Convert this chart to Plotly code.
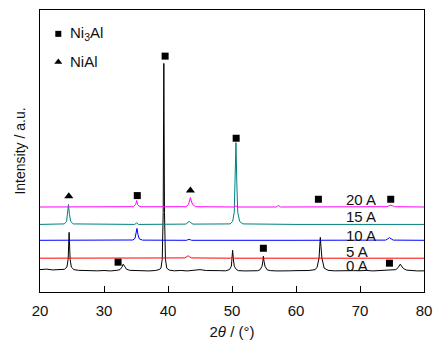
import plotly.graph_objects as go

# ---- data (intensity in arbitrary offset units) ----
x0 = [20, 21, 22, 23, 23.8, 24.2, 24.4, 24.55, 24.7, 24.9, 25.3, 26, 27, 28, 29, 30, 31, 32, 32.5,
      32.8, 33.0, 33.2, 33.5, 34, 35, 36, 37, 38, 38.6, 38.9, 39.1, 39.25, 39.35, 39.45, 39.6, 39.8,
      40.2, 41, 42, 43, 44, 45, 46, 47, 48, 49, 49.6, 49.9, 50.02, 50.1, 50.2, 50.35, 50.7, 51, 52,
      53, 54, 54.4, 54.7, 54.82, 54.9, 55.0, 55.15, 55.5, 56, 57, 58, 59, 60, 61, 62, 63, 63.3,
      63.6, 63.72, 63.8, 63.9, 64.05, 64.4, 65, 66, 67, 68, 69, 70, 71, 72, 73, 74, 75, 75.6,
      75.95, 76.15, 76.3, 76.5, 76.8, 77.3, 78, 79, 80]
y0 = [22.5, 23.0, 22.2, 22.6, 22.8, 25, 33, 60, 33, 25, 22.5, 21.8, 21.5, 21.9, 21.3, 21.6, 21.2, 21.8, 22.5,
      25, 28, 26, 23, 21.8, 21.4, 21.7, 21.2, 21.6, 22.5, 24, 33, 80, 230, 80, 33, 24,
      22, 21.3, 21.7, 21.2, 21.5, 22.5, 21.6, 21.2, 21.5, 21.3, 22.5, 26, 34, 42, 34, 26, 22.5, 21.5, 21.2,
      21.6, 21.4, 22.5, 26, 31, 36, 31, 26, 22.3, 21.5, 21.2, 21.6, 21.3, 21.5, 21.2, 21.6, 22.5, 25,
      34, 46, 55, 46, 34, 24, 21.8, 21.3, 21.6, 21.2, 21.5, 21.4, 21.7, 21.2, 21.5, 21.3, 21.8, 22.5,
      24.5, 27, 28, 26, 23.5, 22, 21.5, 21.2, 21.3]

x5 = [20, 30, 38, 42.6, 42.95, 43.15, 43.35, 43.7, 49.8, 50.1, 50.4, 60, 70, 80]
y5 = [34, 34, 34, 34.3, 35.5, 36.5, 35.5, 34.3, 34, 35.5, 34, 34, 34, 34]

x10 = [20, 30, 34.5, 34.85, 35.0, 35.15, 35.3, 35.5, 36, 42.9, 43.3, 43.7, 60, 74.0, 74.35,
       74.6, 74.85, 75.2, 80]
y10 = [52, 52, 52.3, 54, 58, 64, 58, 53.5, 52.2, 52, 53, 52, 52, 52.2, 53.5, 54.7, 53.5, 52.2, 52]

x15 = [20, 23.8, 24.15, 24.3, 24.45, 24.6, 24.8, 25.2, 30, 34.8, 35.1, 35.4, 42.8, 43.1, 43.3,
       43.5, 43.9, 49.7, 50.1, 50.35, 50.5, 50.62, 50.75, 50.9, 51.2, 51.7, 60, 70, 80]
y15 = [68, 68.5, 71, 78, 88, 78, 71, 68.5, 68, 68, 69.5, 68, 68.3, 70, 71, 70, 68.3, 68.5, 71, 80,
       110, 150.3, 110, 80, 71, 68.5, 68, 68, 68]

x20 = [20, 30, 34.6, 34.95, 35.1, 35.25, 35.45, 35.8, 42.8, 43.2, 43.38, 43.5, 43.65, 43.85,
       44.3, 50.3, 50.6, 50.9, 56.9, 57.25, 57.6, 70, 74.2, 74.55, 74.8, 75.05, 75.4, 80]
y20 = [85.5, 85.5, 85.8, 88, 92, 88, 86.5, 85.7, 85.8, 88, 91.5, 95, 91.5, 88, 85.8, 85.5, 86.5,
       85.5, 85.5, 87, 85.5, 85.5, 85.8, 86.8, 87.3, 86.8, 85.8, 85.5]

series_names = ["0 A", "5 A", "10 A", "15 A", "20 A"]
series_colors = ["#000000", "#ff0000", "#0000ff", "#008080", "#ff00ff"]
label_y = [26.5, 40.8, 57.3, 75.7, 93.3]

# phase marker positions (2theta, height)
ni3al_x = [39.55, 50.65, 35.2, 63.5, 74.8, 54.9, 74.6, 32.2]
ni3al_y = [237.3, 154.7, 97, 93.3, 93.3, 44, 29, 30]
nial_x = [24.5, 43.5]
nial_y = [96.3, 102]

fig = go.Figure()
xs = [x0, x5, x10, x15, x20]
ys = [y0, y5, y10, y15, y20]
for xv, yv, nm, c in zip(xs, ys, series_names, series_colors):
    fig.add_trace(go.Scatter(x=xv, y=yv, mode="lines", name=nm,
                             line=dict(color=c, width=1), showlegend=False))

fig.add_trace(go.Scatter(x=ni3al_x, y=ni3al_y, mode="markers", showlegend=False,
                         marker=dict(symbol="square", size=7, color="black")))
fig.add_trace(go.Scatter(x=nial_x, y=nial_y, mode="markers", showlegend=False,
                         marker=dict(symbol="triangle-up", size=8, color="black")))
# legend key markers
fig.add_trace(go.Scatter(x=[22.86], y=[259.7], mode="markers", showlegend=False,
                         marker=dict(symbol="square", size=6, color="black")))
fig.add_trace(go.Scatter(x=[22.86], y=[231.3], mode="markers", showlegend=False,
                         marker=dict(symbol="triangle-up", size=7, color="black")))

font = "Arial, Liberation Sans, sans-serif"
annotations = []
for nm, ly in zip(series_names, label_y):
    annotations.append(dict(x=67.66, y=ly, text=nm, showarrow=False, xanchor="left",
                            yanchor="middle", font=dict(size=15, color="#111"),
                            borderpad=0))
annotations.append(dict(x=24.4, y=259.7, text="Ni<sub>3</sub>Al", showarrow=False,
                        xanchor="left", yanchor="middle", font=dict(size=15, color="#111")))
annotations.append(dict(x=24.4, y=231.8, text="NiAl", showarrow=False,
                        xanchor="left", yanchor="middle", font=dict(size=15, color="#111")))

fig.update_layout(
    width=444, height=347,
    margin=dict(l=40, r=20, t=9, b=54),
    paper_bgcolor="white", plot_bgcolor="white",
    font=dict(family=font, size=14, color="#111"),
    annotations=annotations,
    xaxis=dict(range=[20, 80], tickvals=[20, 30, 40, 50, 60, 70, 80],
               ticks="inside", ticklen=6, tickcolor="black", tickwidth=1,
               showline=True, linecolor="black", linewidth=1, mirror=True,
               showgrid=False, zeroline=False,
               tickfont=dict(size=15), ticklabelstandoff=5,
               title=dict(text="2<i>θ</i> / (°)", font=dict(size=15), standoff=8)),
    yaxis=dict(range=[0, 283.7], showticklabels=False, ticks="",
               showline=True, linecolor="black", linewidth=1, mirror=True,
               showgrid=False, zeroline=False,
               title=dict(text="Intensity / a.u.", font=dict(size=14), standoff=10)),
)

fig.write_html("out.html")
